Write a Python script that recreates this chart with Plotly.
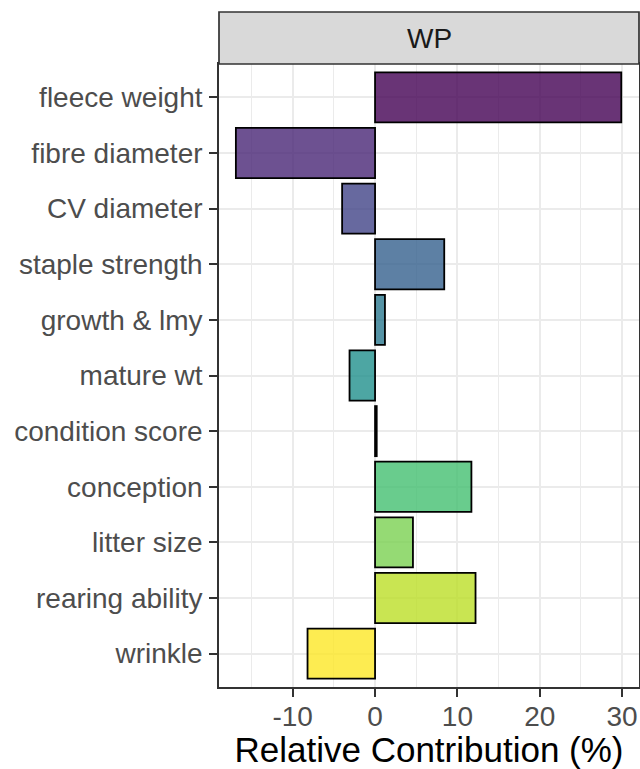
import plotly.graph_objects as go

categories = ["fleece weight", "fibre diameter", "CV diameter", "staple strength",
              "growth & lmy", "mature wt", "condition score", "conception",
              "litter size", "rearing ability", "wrinkle"]
values = [29.9, -16.9, -4.0, 8.4, 1.2, -3.1, 0.2, 11.7, 4.6, 12.2, -8.2]
viridis11 = ["#440154", "#482576", "#414487", "#35608D", "#2A788E", "#21908C",
             "#22A884", "#43BF71", "#7AD151", "#BBDF27", "#FDE725"]
x_ticks = [-10, 0, 10, 20, 30]
facet_label = "WP"
x_title = "Relative Contribution (%)"


def rgba(h, a=0.8):
    h = h.lstrip("#")
    r, g, b = int(h[0:2], 16), int(h[2:4], 16), int(h[4:6], 16)
    return f"rgba({r},{g},{b},{a})"


FONT = "Liberation Sans, Arial, sans-serif"

fig = go.Figure()
fig.add_trace(go.Bar(
    x=values, y=categories, orientation="h", width=0.9,
    marker=dict(color=[rgba(c) for c in viridis11],
                line=dict(color="black", width=1.8)),
    showlegend=False, hoverinfo="skip",
))

W, H = 640, 769
ml, mr, mt, mb = 219, 1, 64, 82
plot_h = H - mt - mb
strip_h = 52

fig.update_layout(
    width=W, height=H,
    margin=dict(l=ml, r=mr, t=mt, b=mb, pad=0),
    paper_bgcolor="white", plot_bgcolor="white",
    font=dict(family=FONT),
    bargap=0.1,
    xaxis=dict(
        range=[-18.95, 32.05], tickvals=x_ticks, ticktext=[str(v) for v in x_ticks],
        automargin=False,
        showgrid=True, gridcolor="#EBEBEB", gridwidth=1.6,
        minor=dict(dtick=5, tick0=0, showgrid=True, gridcolor="#EBEBEB", gridwidth=0.9),
        zeroline=False,
        showline=True, mirror=True, linecolor="#333333", linewidth=1.7,
        ticks="outside", ticklen=8, tickwidth=1.7, tickcolor="#333333",
        ticklabelstandoff=-4,
        tickfont=dict(size=28, color="#4D4D4D", family=FONT),
        title=dict(text=x_title, font=dict(size=35, color="black", family=FONT), standoff=10),
    ),
    yaxis=dict(
        type="category", categoryorder="array", categoryarray=categories,
        range=[10.6, -0.6], automargin=False,
        showgrid=True, gridcolor="#EBEBEB", gridwidth=1.6,
        zeroline=False,
        showline=True, mirror=True, linecolor="#333333", linewidth=1.7,
        ticks="outside", ticklen=8, tickwidth=1.7, tickcolor="#333333",
        ticklabelstandoff=1,
        tickfont=dict(size=28, color="#4D4D4D", family=FONT),
    ),
    shapes=[dict(type="rect", xref="paper", yref="paper",
                 x0=0, x1=1, y0=1, y1=1 + strip_h / plot_h,
                 fillcolor="#D9D9D9", line=dict(color="#333333", width=1.7), layer="above")],
    annotations=[dict(text=facet_label, xref="paper", yref="paper", x=0.5,
                      y=1 + strip_h / 2 / plot_h, xanchor="center", yanchor="middle",
                      showarrow=False, font=dict(size=28, color="#1A1A1A", family=FONT))],
)

fig.write_html("out.html", config={"displayModeBar": False},
               post_script="document.body.style.margin='0';")
